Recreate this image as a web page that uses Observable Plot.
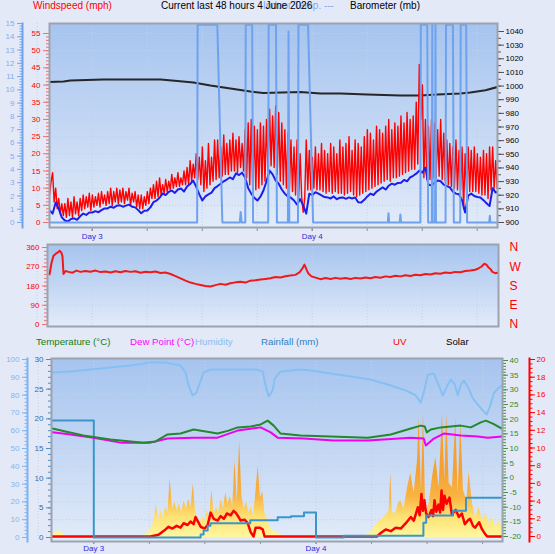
<!DOCTYPE html>
<html>
<head>
<meta charset="utf-8">
<script src="https://cdn.jsdelivr.net/npm/d3@7"></script>
<script src="https://cdn.jsdelivr.net/npm/@observablehq/plot@0.6"></script>
<style>
  html, body { margin: 0; padding: 0; background: #E4E9F8; }
  #chart { position: relative; width: 555px; height: 554px; overflow: hidden; background: #E4E9F8; }
</style>
</head>
<body>
<div id="chart"></div>
<script>
// ---------- Titles ----------
const titleWind = "Windspeed (mph)";
const titleMain = "Current last 48 hours 4 June 2026";
const titleIndoor = "Indoor Temp. ---";
const titleBaro = "Barometer (mb)";
const legendTemp = "Temperature (°C)";
const legendDew = "Dew Point (°C)";
const legendHum = "Humidity";
const legendRain = "Rainfall (mm)";
const legendUV = "UV";
const legendSolar = "Solar";

// ---------- Time axis (hours from start of Day 3) ----------
const dayTicks = [0, 24];
const dayLabels = ["Day 3", "Day 4"];
const sixHourTicks = [-6, 0, 6, 12, 18, 24, 30, 36, 42];

// ---------- Panel 1: wind, barometer, indoor ----------
const windStartHour = -4.65;
const gustStepHour = 1 / 6;   // 10-minute gust samples
const avgStepHour = 1 / 3;    // 20-minute average samples
const gustMph = [
  8,12,14.5,6,10,4,7,2.5,5.5,2,
  5.5,1.5,7,2,6,1.5,7.5,2.5,6,2,
  7,3.5,8,4,7.5,4.5,8.5,3.5,8,4.5,
  7.5,5,8.5,4.5,9,5.5,8,5,9,5.5,
  10,5,9,6,10,5.5,9.5,6,10,5.5,
  9,6.5,10,5,8.5,6,9,4.5,8,4,
  8,4,7.5,5,9,5.5,10,7,11,7,
  12,7.5,13,8,11,8.5,12.5,9,12,9.5,
  14,10,13,10.5,14.5,10.5,13,11,15,11,
  16,11,18,12,17,13,20,12.5,19,11,
  22,9,18,10,23,11,19,12,24,12.5,
  24,13,22,13.5,25.5,14,23,14,24,15,
  26,15,24,14.5,25,16,23,15,27,13,
  29,11,30,9,28,9.5,27,10,29,11,
  28,12,30,15,33,16.5,31,16,34,14,
  32,12,29,11,27,10,26,10,24,9,
  22,8,24,7,20,7.5,3,7,24,9.5,
  21,9.5,19,10,22,9.5,20,9.5,23,9,
  21,8.5,20,9,23,8.5,22,9,20,8.5,
  24,8.5,22,8,23,8.5,25,9,21,8,
  24,7.5,23,8,22,8.5,25,9,27,9.5,
  26,10,24,10.5,28,11,27,11.5,26,12,
  28,12.5,30,12,27,13,29,13,28,13.5,
  31,14,29,14.5,32,15,30,15.5,31,15.5,
  35,17,46,30,40,13,30,12.5,28,12.5,
  30,13,29,13,27,13.5,30,12.5,26,12,
  24,11,23,10.5,22,10,24,9.5,21,9.5,
  22,4,20,9,22,9,21,9,22,9,
  20,8.5,19,8,21,8,20,7,22,9.5,
  22,10,18,10,19,10
];
const avgMph = [
  3.5,2.6,5.8,4.0,1.5,0.6,0.3,1.0,1.2,0.8,
  1.8,2.6,2.2,2.9,2.9,3.3,3.0,3.6,4.1,4.1,
  4.6,4.3,4.9,5.0,4.6,4.9,5.2,4.6,4.4,3.6,
  2.7,3.4,3.5,4.4,5.9,6.4,7.2,8.4,8.0,8.9,
  9.3,8.6,9.6,9.9,9.0,10.5,11.2,12.2,10.4,8.2,
  6.4,7.6,8.2,8.7,10.0,10.6,11.3,12.0,12.5,13.1,
  12.6,14.3,13.8,14.5,13.1,10.0,8.4,7.2,6.4,7.5,
  9.3,12.0,15.1,14.0,12.2,11.3,9.6,8.4,7.6,7.2,
  6.4,5.2,6.8,5.0,2.6,8.4,8.0,8.8,8.4,7.9,
  7.4,7.3,7.0,7.6,6.8,7.2,7.3,6.9,7.3,7.0,
  7.3,5.9,5.8,6.6,7.6,8.4,8.0,9.0,9.6,10.2,
  9.6,10.7,11.3,11.0,11.5,11.6,12.4,12.0,13.1,13.6,
  14.2,15.1,14.5,16.0,11.0,10.8,11.6,12.2,12.0,11.0,
  10.6,10.2,9.0,8.4,8.2,6.5,2.9,7.8,8.4,7.7,
  7.4,7.3,6.5,5.6,4.8,10.0,8.7,9.0
];
const baroHours = [-4.7,-3.13,-2.37,1.23,7.45,9.3,11.05,12.9,15.08,17.26,18.68,22.71,24.9,27.08,30.02,33.62,35.8,37.65,40.16,41.25,42.9,44.3];
const baroMb = [1003.0,1003.3,1004.1,1004.8,1004.8,1003.7,1002.6,1000.4,998.2,996.0,994.9,995.6,994.6,994.6,993.8,993.1,993.1,993.8,994.6,995.3,997.0,999.5];
const indoorHours = [-4.7,11.45,11.5,13.65,14.2,16.1,16.2,16.3,16.7,16.75,17.45,17.55,19.2,19.25,20.05,20.15,21.35,21.42,21.5,22.45,22.5,23.55,24.1,32.25,32.32,32.4,33.55,33.62,33.7,35.8,35.85,36.55,36.65,37.05,37.1,37.15,37.4,37.45,37.5,38.55,38.6,39.35,39.45,40.15,40.2,40.8,40.9,43.3,43.38,43.45,44.3];
const indoorValues = [0,0,14.9,14.9,0,0,0.8,0,0,14.9,14.9,0,0,14.9,14.9,0,0,14.4,0,0,14.9,14.9,0,0,0.7,0,0,0.6,0,0,14.9,14.9,0,0,14.9,0,0,14.9,0,0,14.9,14.9,0,0,14.9,14.9,0,0,0.5,0,0];
const windTicks = [0,5,10,15,20,25,30,35,40,45,50,55];
const baroTicks = [900,910,920,930,940,950,960,970,980,990,1000,1010,1020,1030,1040];
const indoorTicks = [0,1,2,3,4,5,6,7,8,9,10,11,12,13,14,15];

// ---------- Panel 2: wind direction ----------
const dirHours = [-4.65,-4.43,-4.21,-4.0,-3.78,-3.56,-3.35,-3.24,-3.13,-2.91,-2.58,-2.15,-1.71,-1.28,-0.73,-0.19,0.36,0.91,1.45,2.0,2.54,3.09,3.63,4.18,4.72,5.27,5.82,6.36,6.9,7.45,8.0,8.54,9.09,9.63,10.18,10.72,11.27,11.81,12.36,12.9,13.45,14.0,14.54,15.08,15.63,16.17,16.72,17.26,17.81,18.35,18.9,19.44,19.99,20.53,21.08,21.62,22.17,22.61,22.94,23.15,23.37,23.59,23.92,24.46,24.9,25.45,26.0,26.54,27.08,27.63,28.17,28.72,29.26,29.81,30.35,30.9,31.44,31.99,32.53,33.08,33.62,34.17,34.71,35.26,35.8,36.34,36.89,37.43,37.98,38.52,39.07,39.61,40.16,40.71,41.25,41.8,42.12,42.45,42.78,43.0,43.21,43.43,43.65,43.97,44.19];
const dirDeg = [235,290,322,330,336,345,335,318,236,250,246,242,252,246,250,247,252,245,248,243,249,244,250,246,249,242,247,244,248,241,243,236,226,216,205,196,190,185,180,178,184,190,186,193,197,200,196,205,207,210,213,216,222,220,226,229,232,244,262,280,258,238,225,218,212,217,213,218,214,217,213,218,215,220,216,222,219,225,222,228,225,230,227,233,230,236,234,240,237,243,241,246,244,250,252,256,262,270,284,280,268,260,246,240,242];
const dirTicks = [0,90,180,270,360];
const compassLabels = ["N","E","S","W","N"];

// ---------- Panel 3: temperature, humidity, rain, UV, solar ----------
const humHours = [-4.46,-2.52,-0.36,1.8,3.97,6.13,7.75,9.37,9.91,10.24,10.67,11.1,11.42,11.86,12.61,14.78,17.48,18.24,18.56,18.89,19.32,19.54,20.18,22.35,23.43,25.59,27.75,29.91,30.99,32.08,33.7,34.78,35.32,35.75,36.08,36.73,37.27,37.7,38.13,38.56,39.0,39.32,39.64,39.97,40.51,40.94,41.48,42.02,42.45,42.78,43.21,43.64,44.08];
const humPct = [92.7,93.3,94.4,95.5,96.6,98.3,98.3,96.6,92.7,85.4,79.8,81.5,86.5,92.7,94.4,94.4,94.4,93.3,85.4,79.2,82.6,89.3,93.3,94.4,93.8,92.1,90.4,88.8,87.1,85.4,82.6,79.8,75.8,83.7,91.6,92.1,85.4,79.8,84.8,88.8,86.0,79.8,86.0,88.2,83.7,78.1,74.7,71.3,69.1,73.6,80.9,83.7,85.4];
const tempHours = [-4.46,-3.06,-1.11,1.8,5.37,6.67,7.97,9.37,10.78,12.08,13.37,14.56,15.53,16.94,18.02,18.78,19.43,20.18,22.35,25.59,29.59,32.08,34.24,35.32,35.75,35.97,36.4,37.48,39.64,40.72,41.8,42.34,43.1,44.08];
const tempC = [16.8,15.8,14.4,13.1,12.0,12.4,14.8,15.1,16.5,15.8,15.1,16.1,17.2,17.5,18.2,19.5,17.8,15.1,14.4,14.1,13.7,14.8,16.8,17.8,17.5,15.5,16.5,17.2,17.8,17.2,18.9,19.5,18.5,16.8];
const dewHours = [-4.46,-2.52,-0.03,2.89,6.13,7.97,10.78,13.37,15.53,18.02,19.1,19.86,22.67,25.91,29.59,34.24,35.64,35.86,36.73,37.81,39.64,41.48,42.56,44.08];
const dewC = [15.5,14.8,13.7,12.0,12.0,13.4,13.7,13.7,16.1,17.2,15.5,13.7,13.4,12.7,12.7,13.7,13.4,11.0,13.4,15.1,14.4,14.1,13.7,14.1];
const rainHours = [-4.6,0,11.54,11.86,12.3,12.6,16.9,19.86,21.3,22.7,24.0,27.0,35.6,35.9,38.8,40.2,44.3];
const rainMm = [19.7,0,0.5,1.2,2.0,2.4,2.9,3.4,3.6,4.2,0,0.3,2.5,3.7,4.5,6.7,6.7];
const uvHours = [-4.6,6.13,6.99,7.75,8.08,8.5,8.94,9.37,9.7,10.13,10.45,10.78,10.99,11.3,11.54,11.97,12.3,12.62,12.95,13.38,13.7,14.05,14.37,14.78,15.1,15.32,15.64,15.86,16.29,16.63,16.94,17.26,17.48,17.91,18.24,18.45,30.58,31.0,31.53,32.08,32.6,33.15,33.7,34.24,34.57,35.0,35.2,35.39,35.55,35.71,35.9,36.15,36.47,36.65,36.8,37.0,37.23,37.4,37.56,37.72,37.88,38.1,38.42,38.67,39.1,39.43,39.75,40.08,40.4,40.64,40.96,41.18,41.62,41.94,42.26,42.48,44.3];
const uvIndex = [0,0,0.2,0.8,1.1,0.9,1.2,1.0,1.5,1.3,1.7,1.4,2.2,1.6,1.1,0.9,1.3,2.7,2.0,1.8,2.3,2.0,2.6,2.4,2.9,2.7,2.2,1.8,1.9,1.5,0.5,0,1.0,1.0,0.8,0,0,0.4,0.8,0.6,1.0,0.9,1.5,2.2,1.8,3.3,2.4,4.8,2.9,4.1,2.6,2.2,3.0,2.3,4.1,2.8,3.6,2.7,5.2,3.0,4.6,3.7,4.4,2.5,3.0,2.2,2.6,1.4,1.8,2.0,1.2,1.0,1.6,0.8,0.3,0,0];
const solarHours = [
  -4.6,-4.35,-4.1,-3.85,-3.6,-3.35,-3.1,-2.85,
  5.0,5.25,5.5,5.75,6.0,6.25,6.5,6.75,7.0,7.25,7.5,7.75,8.0,8.25,8.5,8.75,9.0,9.25,9.5,9.75,
  10.0,10.25,10.5,10.75,11.0,11.25,11.5,11.75,12.0,12.25,12.5,12.75,13.0,13.25,13.5,13.75,
  14.0,14.25,14.5,14.75,15.0,15.25,15.5,15.75,16.0,16.25,16.5,16.75,17.0,17.25,17.5,17.75,
  18.0,18.25,18.5,18.75,19.0,19.25,19.5,19.75,20.0,20.25,20.5,20.75,
  27.75,29.19,29.9,30.6,31.35,31.9,32.08,32.25,32.6,32.9,33.15,33.5,33.9,34.24,34.6,34.96,35.14,35.39,35.61,35.86,
  36.22,36.58,36.94,37.3,37.66,37.91,38.13,38.38,38.74,39.1,39.35,39.64,39.93,40.29,40.54,40.9,41.26,41.62,41.99,
  42.35,42.7,43.07,43.43,43.78,44.1,44.3
];
const solarWm2 = [
  5,18,30,38,32,20,8,0,
  0,8,15,22,35,60,90,190,100,150,110,170,140,330,160,200,150,190,140,205,
  160,215,170,300,140,110,85,120,90,150,120,265,130,170,140,210,
  160,250,190,230,170,430,200,545,230,160,200,140,170,120,250,400,
  220,260,130,110,60,45,30,25,22,15,8,0,
  0,10,30,80,112,150,360,140,135,190,208,160,283,360,247,430,675,264,697,135,
  190,337,450,280,697,320,697,303,280,668,247,640,264,208,365,190,112,170,95,
  135,80,112,56,95,56,60
];
const humTicks = [0,10,20,30,40,50,60,70,80,90,100];
const rainTicks = [0,5,10,15,20,25,30];
const tempTicks = [-20,-15,-10,-5,0,5,10,15,20,25,30,35,40];
const uvTicks = [0,2,4,6,8,10,12,14,16,18,20];

// ---------- Drawing ----------
const FONT = '"Liberation Sans", Arial, Helvetica, sans-serif';
const W = 555, H = 554;
const root = document.getElementById("chart");
const zip = (ts, vs) => ts.map((t, i) => ({t, v: vs[i]}));
const plain = d => String(d);

function layer(box, xs, ys, marks) {
  const svg = Plot.plot({
    width: W, height: H,
    marginLeft: box.l, marginRight: W - box.r, marginTop: box.t, marginBottom: H - box.b,
    x: {type: "linear", domain: xs.domain, range: xs.range, axis: null},
    y: {type: "linear", domain: ys.domain, range: ys.range, axis: null},
    style: {background: "transparent", fontFamily: FONT, fontSize: "8px", overflow: "visible"},
    marks
  });
  Object.assign(svg.style, {position: "absolute", left: "0px", top: "0px", maxWidth: "none"});
  root.appendChild(svg);
  return svg;
}

function vGradient(svg, id, y1, y2, stops) {
  const defs = d3.select(svg).insert("defs", ":first-child");
  const g = defs.append("linearGradient").attr("id", id)
    .attr("gradientUnits", "userSpaceOnUse")
    .attr("x1", 0).attr("x2", 0).attr("y1", y1).attr("y2", y2);
  for (const [o, c] of stops) g.append("stop").attr("offset", o).attr("stop-color", c);
}

function text(str, x, yc, color, size) {
  const d = document.createElement("div");
  d.textContent = str;
  Object.assign(d.style, {
    position: "absolute", left: x + "px", top: (yc - size * 0.6) + "px",
    color, fontSize: size + "px", fontFamily: FONT, lineHeight: (size * 1.2) + "px", whiteSpace: "nowrap"
  });
  root.appendChild(d);
}

const gridStyle = {stroke: "#C3D0E6", strokeOpacity: 1, strokeDasharray: "1,2"};
const bgStops = [[0, "#A6C4EF"], [0.55, "#C6D9F4"], [1, "#E2EBF9"]];
const BORDER = "#9CA2AE";

// Panel 1 geometry and scales
const P1 = {l: 49, r: 497, t: 23, b: 227};
const X1 = {domain: [0, 24], range: [91.7, 311.7]};
const Y_WIND = {domain: [0, 55], range: [222, 33]};
const Y_BARO = {domain: [900, 1040], range: [222, 31]};
const Y_IND = {domain: [0, 15], range: [222, 23]};

const gust = zip(gustMph.map((_, i) => windStartHour + i * gustStepHour), gustMph);
const avg = zip(avgMph.map((_, i) => windStartHour + i * avgStepHour), avgMph);
const baro = zip(baroHours, baroMb);
const indoor = zip(indoorHours, indoorValues);

const bg1 = layer(P1, X1, Y_WIND, [
  Plot.frame({fill: "url(#bgP1)", stroke: "none"}),
  Plot.gridY(windTicks.slice(1), gridStyle),
  Plot.gridX(sixHourTicks, gridStyle),
  Plot.axisX(sixHourTicks.filter(d => d > -4.6), {anchor: "bottom", tickSize: 4, stroke: "#8A90A0", fill: "none", label: null}),
  Plot.axisX(dayTicks, {anchor: "bottom", tickSize: 4, tickPadding: 2, stroke: "#8A90A0", fill: "#2A2AE0", fontSize: 8,
    tickFormat: d => dayLabels[dayTicks.indexOf(d)], label: null})
]);
vGradient(bg1, "bgP1", P1.t, P1.b, bgStops);

layer(P1, X1, Y_BARO, [
  Plot.line(baro, {x: "t", y: "v", stroke: "#262626", strokeWidth: 2, clip: true}),
  Plot.axisY(d3.range(900, 1041, 5), {anchor: "right", tickSize: 3, stroke: "#505050", fill: "none", label: null}),
  Plot.axisY(baroTicks, {anchor: "right", tickSize: 6, tickPadding: 2, stroke: "#505050", fill: "#000", fontSize: 8, tickFormat: plain, label: null})
]);

layer(P1, X1, Y_WIND, [
  Plot.line(gust, {x: "t", y: "v", stroke: "#FF0000", strokeWidth: 1.4, clip: true}),
  Plot.line(avg, {x: "t", y: "v", stroke: "#1E1EEA", strokeWidth: 2, clip: true}),
  Plot.axisY(d3.range(0, 56, 1), {anchor: "left", tickSize: 3, stroke: "#F07070", fill: "none", label: null}),
  Plot.axisY(windTicks, {anchor: "left", tickSize: 6, tickPadding: 3, stroke: "#F07070", fill: "#FF0000", fontSize: 8, tickFormat: plain, label: null})
]);

layer(P1, X1, Y_IND, [
  Plot.line(indoor, {x: "t", y: "v", stroke: "#6FA2EE", strokeWidth: 2, clip: true})
]);

layer({l: 22, r: P1.r, t: P1.t, b: P1.b}, X1, Y_IND, [
  Plot.frame({anchor: "left", stroke: "#6FA2EE", strokeWidth: 2}),
  Plot.axisY(d3.range(0, 15.01, 0.2), {anchor: "left", tickSize: 2.5, stroke: "#7AA8EE", fill: "none", label: null}),
  Plot.axisY(indoorTicks, {anchor: "left", tickSize: 5, tickPadding: 3, stroke: "#7AA8EE", fill: "#86AAEE", fontSize: 8, tickFormat: plain, label: null})
]);

layer(P1, X1, Y_WIND, [Plot.frame({stroke: BORDER, strokeWidth: 2})]);

// Panel 2: wind direction
const P2 = {l: 47, r: 498, t: 244, b: 326};
const Y_DIR = {domain: [0, 360], range: [324, 247]};
const dir = zip(dirHours, dirDeg);

const bg2 = layer(P2, X1, Y_DIR, [
  Plot.frame({fill: "url(#bgP2)", stroke: "none"}),
  Plot.gridY([90, 180, 270], gridStyle),
  Plot.gridX(sixHourTicks, gridStyle),
  Plot.line(dir, {x: "t", y: "v", stroke: "#F01818", strokeWidth: 2, clip: true}),
  Plot.axisY(d3.range(0, 361, 18), {anchor: "left", tickSize: 3, stroke: "#F07070", fill: "none", label: null}),
  Plot.axisY(dirTicks, {anchor: "left", tickSize: 5, tickPadding: 3, stroke: "#F07070", fill: "#FF0000", fontSize: 8, tickFormat: plain, label: null}),
  Plot.axisY(dirTicks, {anchor: "right", tickSize: 0, tickPadding: 11, fill: "#FF0000", fontSize: 12,
    tickFormat: d => compassLabels[dirTicks.indexOf(d)], label: null}),
  Plot.frame({stroke: BORDER, strokeWidth: 2})
]);
vGradient(bg2, "bgP2", P2.t, P2.b, bgStops);

// Panel 3: temperature, humidity, rain, UV, solar
const P3 = {l: 51, r: 502, t: 358, b: 541};
const X3 = {domain: [0, 24], range: [93.3, 315.5]};
const Y_HUM = {domain: [0, 100], range: [537, 359]};
const Y_TEMP = {domain: [-20, 40], range: [536, 360]};
const Y_RAIN = {domain: [0, 30], range: [537, 359]};
const Y_UV = {domain: [0, 20], range: [536, 359]};
const Y_SOLAR = {domain: [0, 1000], range: [537, 359]};

const bg3 = layer(P3, X3, Y_HUM, [
  Plot.frame({fill: "url(#bgP3)", stroke: "none"}),
  Plot.gridY(humTicks.slice(1, -1), gridStyle),
  Plot.gridX(sixHourTicks, gridStyle),
  Plot.axisX(sixHourTicks.filter(d => d > -4.4), {anchor: "bottom", tickSize: 3, stroke: "#8A90A0", fill: "none", label: null}),
  Plot.axisX(dayTicks, {anchor: "bottom", tickSize: 3, tickPadding: 1, stroke: "#8A90A0", fill: "#2A2AE0", fontSize: 8,
    tickFormat: d => dayLabels[dayTicks.indexOf(d)], label: null})
]);
vGradient(bg3, "bgP3", P3.t, P3.b, bgStops);

const solarSvg = layer(P3, X3, Y_SOLAR, [
  Plot.areaY(zip(solarHours, solarWm2), {x: "t", y: "v", fill: "url(#solarFill)", clip: true})
]);
vGradient(solarSvg, "solarFill", 537, 470, [[0, "#FFF7A0"], [0.3, "#FDE274"], [0.6, "#F9B443"], [1, "#F5A030"]]);

layer(P3, X3, Y_UV, [
  Plot.line(zip(uvHours, uvIndex), {x: "t", y: "v", stroke: "#FF0000", strokeWidth: 2.5, clip: true})
]);

layer(P3, X3, Y_HUM, [
  Plot.line(zip(humHours, humPct), {x: "t", y: "v", stroke: "#86C0F2", strokeWidth: 2, clip: true})
]);

layer(P3, X3, Y_RAIN, [
  Plot.line(zip(rainHours, rainMm), {x: "t", y: "v", curve: "step-after", stroke: "#3A96CA", strokeWidth: 2, clip: true}),
  Plot.axisY(d3.range(0, 31, 1), {anchor: "left", tickSize: 3, stroke: "#4A8CC8", fill: "none", label: null}),
  Plot.axisY(rainTicks, {anchor: "left", tickSize: 5, tickPadding: 3, stroke: "#4A8CC8", fill: "#2B6CB0", fontSize: 8, tickFormat: plain, label: null})
]);

layer(P3, X3, Y_TEMP, [
  Plot.line(zip(dewHours, dewC), {x: "t", y: "v", stroke: "#F000F0", strokeWidth: 2, clip: true}),
  Plot.line(zip(tempHours, tempC), {x: "t", y: "v", stroke: "#23892A", strokeWidth: 2, clip: true}),
  Plot.axisY(d3.range(-20, 41, 1), {anchor: "right", tickSize: 3, stroke: "#3C963C", fill: "none", label: null}),
  Plot.axisY(tempTicks, {anchor: "right", tickSize: 5, tickPadding: 2, stroke: "#3C963C", fill: "#2E8B2E", fontSize: 8, tickFormat: plain, label: null}),
  Plot.frame({stroke: BORDER, strokeWidth: 2})
]);

layer({l: 27, r: P3.r, t: P3.t, b: P3.b}, X3, Y_HUM, [
  Plot.frame({anchor: "left", stroke: "#7DB3EE", strokeWidth: 2}),
  Plot.axisY(d3.range(0, 101, 2), {anchor: "left", tickSize: 2.5, stroke: "#7DB3EE", fill: "none", label: null}),
  Plot.axisY(humTicks, {anchor: "left", tickSize: 5, tickPadding: 3, stroke: "#7DB3EE", fill: "#86B4EE", fontSize: 8, tickFormat: plain, label: null})
]);

layer({l: P3.l, r: 529, t: P3.t, b: P3.b}, X3, Y_UV, [
  Plot.frame({anchor: "right", stroke: "#FF0000", strokeWidth: 2}),
  Plot.axisY(d3.range(0, 20.01, 0.5), {anchor: "right", tickSize: 2.5, stroke: "#FF0000", fill: "none", label: null}),
  Plot.axisY(uvTicks, {anchor: "right", tickSize: 5, tickPadding: 2, stroke: "#FF0000", fill: "#FF0000", fontSize: 8, tickFormat: plain, label: null})
]);

// ---------- Titles and legend ----------
text(titleWind, 33, 6, "#FF0000", 10);
text(titleIndoor, 263, 6, "#80AAF0", 10);
text(titleMain, 161, 6, "#000000", 10);
text(titleBaro, 350, 6, "#000000", 10);
text(legendTemp, 36, 342, "#138013", 9.7);
text(legendDew, 130, 342, "#FF00FF", 9.7);
text(legendHum, 195, 342, "#88BCF0", 9.7);
text(legendRain, 261, 342, "#2A82C4", 9.7);
text(legendUV, 393, 342, "#FF0000", 9.7);
text(legendSolar, 446, 342, "#000000", 9.7);
</script>
</body>
</html>
